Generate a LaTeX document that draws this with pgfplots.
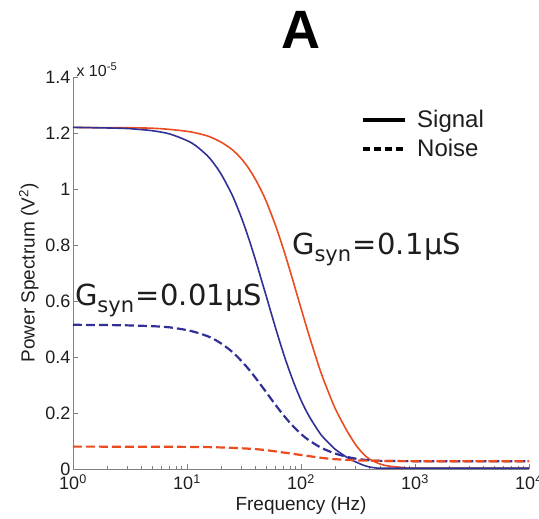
\documentclass[border=0pt]{standalone}
\usepackage{pgfplots}
\pgfplotsset{compat=1.18}
\usepackage{fontspec}
\setmainfont{Liberation Sans}
\newfontfamily\verd{DejaVu Sans}
\definecolor{myred}{RGB}{234,76,32}
\definecolor{myblue}{RGB}{48,48,150}
\definecolor{axgray}{RGB}{128,128,128}
\definecolor{txt}{RGB}{30,30,30}
\begin{document}
\begin{tikzpicture}
\path[use as bounding box] (-73pt,-50pt) rectangle (466pt,469pt);
\begin{axis}[
  at={(0pt,0pt)}, anchor=origin,
  scale only axis, width=456pt, height=392pt,
  xmode=log, xmin=1, xmax=10000, ymin=0, ymax=1.4,
  axis x line=bottom, axis y line=left,
  axis line style={-, axgray, line width=0.8pt},
  every tick/.style={axgray, line width=0.6pt},
  tick align=inside, major tick length=5pt, minor tick length=3pt,
  xtick={1,10,100,1000,10000},
  xticklabels={10\textsuperscript{0},10\textsuperscript{1},10\textsuperscript{2},10\textsuperscript{3},10\textsuperscript{4}},
  ytick={0,0.2,0.4,0.6,0.8,1,1.2,1.4},
  yticklabels={0,0.2,0.4,0.6,0.8,1,1.2,1.4},
  tick label style={font=\fontsize{18}{20}\selectfont, text=txt},
  xticklabel style={yshift=-2pt},
  yticklabel style={xshift=1pt},
  xlabel={Frequency (Hz)},
  xlabel style={font=\fontsize{19}{21}\selectfont, text=txt, at={(axis description cs:0.5,0)}, anchor=north, yshift=-24pt},
  ylabel={Power Spectrum (V\textsuperscript{2})},
  ylabel style={font=\fontsize{19}{21}\selectfont, text=txt, at={(axis description cs:0,0.5)}, anchor=south, yshift=31pt},
  clip=false,
  legend style={at={(rel axis cs:0.625,0.925)}, anchor=north west, draw=none, fill=none,
    font=\fontsize{24}{26}\selectfont, text=txt, row sep=6pt},
  legend cell align=left,
  legend image code/.code={\draw[#1] (0pt,0pt) -- (42pt,0pt); \path (50pt,0pt);},
]
\addlegendimage{black, line width=4pt}
\addlegendentry{Signal}
\addlegendimage{black, line width=4pt, dash pattern=on 7pt off 4pt}
\addlegendentry{Noise}
% red solid (Gsyn=0.1)
\addplot[myred, line width=1.6pt, forget plot, smooth] coordinates {
(1,1.220) (2,1.219) (3,1.219) (4,1.218) (5,1.217) (7,1.213) (10,1.206) (12,1.200) (15,1.190) (17,1.181) (20,1.167) (25,1.140) (30,1.108) (35,1.072) (40,1.033) (45,0.993) (50,0.952) (60,0.868) (70,0.786) (80,0.709) (90,0.638) (100,0.574) (110,0.517) (120,0.466) (130,0.421) (150,0.343) (175,0.272) (200,0.215) (250,0.140) (300,0.088) (350,0.055) (400,0.035) (500,0.017) (600,0.010) (800,0.005) (1000,0.003) (10000,0.003)};
% blue solid (Gsyn=0.01)
\addplot[myblue, line width=1.6pt, forget plot, smooth] coordinates {
(1,1.220) (2,1.218) (3,1.216) (4,1.212) (5,1.208) (7,1.197) (10,1.173) (12,1.154) (15,1.120) (17,1.094) (20,1.052) (25,0.977) (30,0.898) (35,0.820) (40,0.745) (45,0.675) (50,0.612) (60,0.502) (70,0.414) (80,0.345) (90,0.290) (100,0.246) (110,0.211) (120,0.183) (130,0.160) (150,0.122) (175,0.093) (200,0.070) (250,0.043) (300,0.026) (350,0.014) (400,0.007) (450,0.004) (500,0.003) (1000,0.003) (10000,0.003)};
% blue dashed
\addplot[myblue, line width=2.2pt, dash pattern=on 9pt off 4pt, forget plot, smooth] coordinates {
(1,0.515) (2,0.514) (3,0.513) (5,0.510) (7,0.506) (10,0.496) (12,0.488) (15,0.475) (17,0.465) (20,0.448) (25,0.418) (30,0.386) (35,0.355) (40,0.325) (45,0.297) (50,0.272) (60,0.228) (70,0.193) (80,0.165) (90,0.143) (100,0.125) (110,0.111) (120,0.100) (130,0.091) (150,0.076) (175,0.064) (200,0.055) (250,0.044) (300,0.037) (400,0.031) (500,0.029) (1000,0.028) (10000,0.028)};
% red dashed
\addplot[myred, line width=2.2pt, dash pattern=on 9pt off 4pt, forget plot, smooth] coordinates {
(1,0.080) (10,0.079) (20,0.077) (30,0.074) (40,0.071) (50,0.067) (70,0.059) (100,0.050) (150,0.040) (200,0.035) (300,0.031) (500,0.029) (1000,0.028) (10000,0.028)};
\node[font=\verd\fontsize{29}{31}\selectfont, text=txt, anchor=base west, inner sep=0pt] at (rel axis cs:0.480,0.546) {G\raisebox{-0.22em}{\fontsize{21}{22}\selectfont syn}\kern1pt=\kern1pt0.1\kern0.5ptµS};
\node[font=\verd\fontsize{29}{31}\selectfont, text=txt, anchor=base west, inner sep=0pt] at (rel axis cs:0.004,0.416) {G\raisebox{-0.22em}{\fontsize{21}{22}\selectfont syn}\kern1pt=\kern1pt0.01\kern0.5ptµS};
\node[font=\fontsize{16}{17}\selectfont, text=txt, anchor=base west] at (rel axis cs:0.0,1.0) {x 10\textsuperscript{-5}};
\node[font=\bfseries\fontsize{54}{56}\selectfont, anchor=base] at (rel axis cs:0.5,1.0) [yshift=28pt] {A};
\end{axis}
\end{tikzpicture}
\end{document}
